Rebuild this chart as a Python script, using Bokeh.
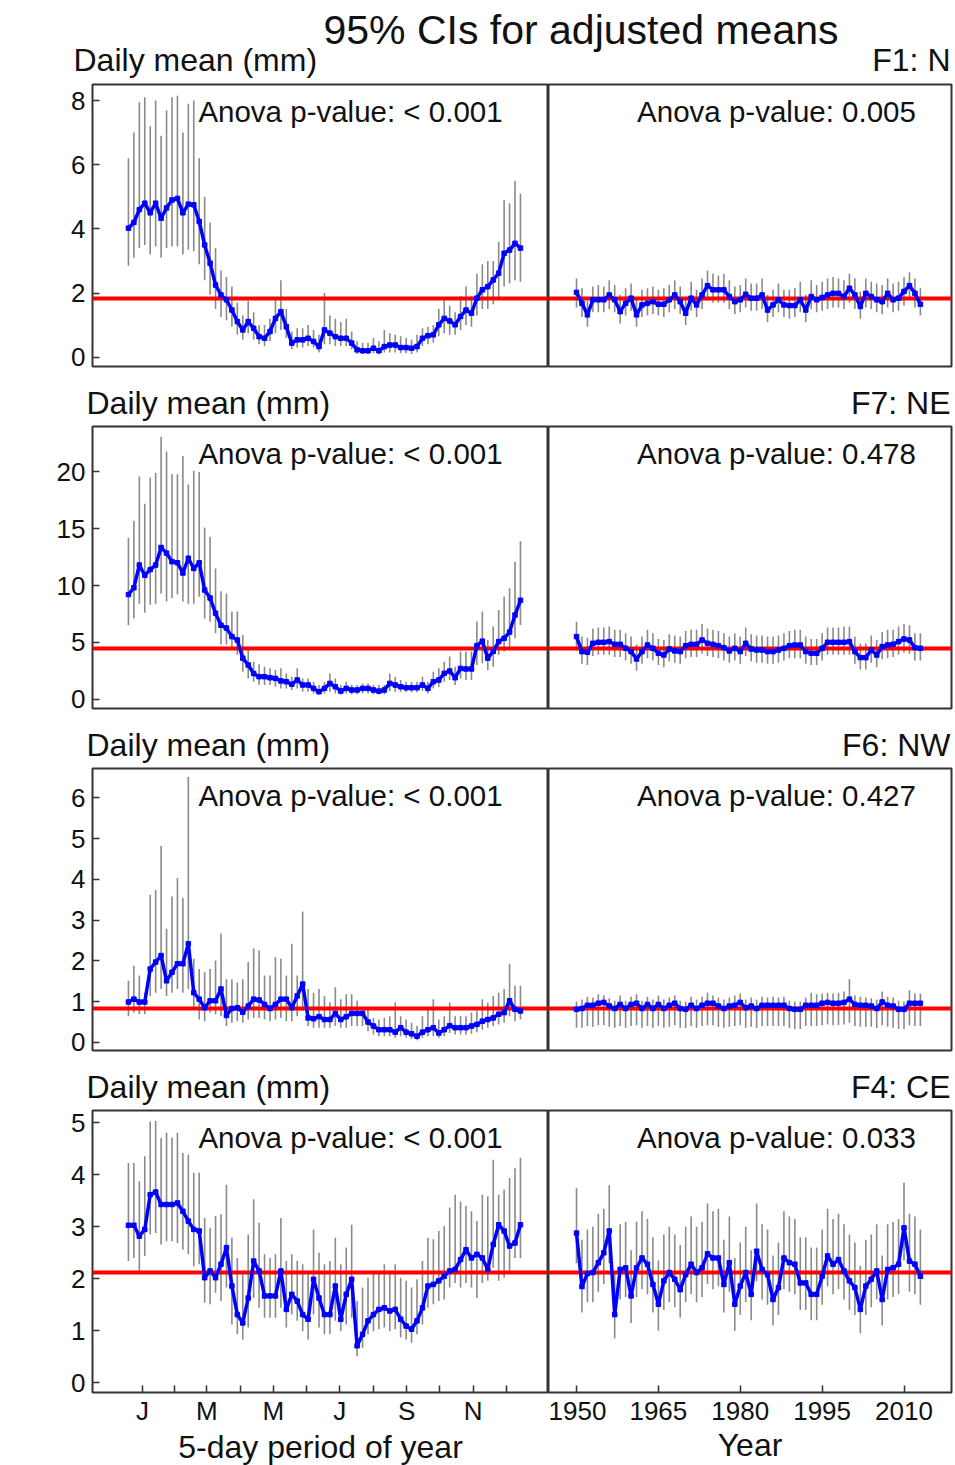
from bokeh.plotting import figure
from bokeh.layouts import column, row
from bokeh.models import Range1d, FixedTicker, Label
from bokeh.embed import file_html
from bokeh.resources import INLINE

FONT = "Liberation Sans"

# ---------------------------------------------------------------- data
PERIODS = list(range(1, 74))          # 5-day periods of the year
YEARS = list(range(1950, 2014))

MONTH_MID_DAYS = [15.5, 45, 74.5, 105, 135.5, 166, 196.5, 227.5, 258, 288.5, 319, 349.5]
MONTH_LABELS = ["J", "", "M", "", "M", "", "J", "", "S", "", "N", ""]
YEAR_TICKS = [1950, 1965, 1980, 1995, 2010]

REGIONS = ["F1: N", "F7: NE", "F6: NW", "F4: CE"]
P_SEASON = ["< 0.001", "< 0.001", "< 0.001", "< 0.001"]
P_YEAR = ["0.005", "0.478", "0.427", "0.033"]
OVERALL_MEAN = [1.82, 4.47, 0.83, 2.13]
Y_TICKS = [[0, 2, 4, 6, 8], [0, 5, 10, 15, 20], [0, 1, 2, 3, 4, 5, 6], [0, 1, 2, 3, 4, 5]]
Y_LIMITS = [(-0.29, 8.5), (-0.83, 24.0), (-0.2, 6.72), (-0.19, 5.24)]

# F1: N
F1_SEASON_MEAN = [4.02, 4.2, 4.6, 4.8, 4.5, 4.8, 4.33, 4.65, 4.9, 4.95,
                  4.5, 4.77, 4.75, 4.23, 3.5, 2.93, 2.25, 1.94, 1.79, 1.47,
                  1.11, 0.85, 1.11, 0.9, 0.64, 0.59, 0.8, 1.21, 1.42, 0.95,
                  0.44, 0.54, 0.54, 0.59, 0.49, 0.33, 0.85, 0.75, 0.64, 0.59,
                  0.59, 0.44, 0.23, 0.2, 0.2, 0.28, 0.2, 0.33, 0.38, 0.38,
                  0.3, 0.3, 0.28, 0.33, 0.59, 0.67, 0.7, 1.01, 1.21, 1.13,
                  1.01, 1.27, 1.47, 1.37, 1.84, 2.1, 2.2, 2.41, 2.62, 3.24,
                  3.34, 3.55, 3.4]
F1_SEASON_HI = [6.2, 7.0, 7.95, 8.1, 7.2, 8.0, 6.9, 7.7, 8.1, 8.15,
                7.0, 7.9, 8.0, 6.2, 5.0, 4.2, 3.4, 2.7, 2.5, 2.2,
                1.7, 1.3, 1.75, 1.4, 1.0, 1.0, 1.2, 1.8, 2.4, 1.5,
                0.8, 0.9, 0.9, 1.0, 0.85, 0.7, 2.0, 1.3, 1.2, 1.1,
                1.2, 0.8, 0.5, 0.45, 0.45, 0.6, 0.5, 0.85, 0.75, 0.7,
                0.65, 0.6, 0.55, 0.7, 0.9, 0.95, 1.0, 1.5, 1.8, 1.6,
                1.4, 1.9, 2.2, 1.9, 2.6, 2.9, 3.0, 3.0, 3.6, 4.9,
                4.8, 5.5, 5.1]
F1_SEASON_LO = [2.85, 3.1, 3.4, 3.5, 3.2, 3.45, 3.1, 3.4, 3.45, 3.45,
                3.2, 3.35, 3.3, 2.9, 2.4, 1.95, 1.5, 1.25, 1.15, 0.95,
                0.7, 0.55, 0.75, 0.55, 0.4, 0.35, 0.5, 0.75, 0.85, 0.6,
                0.25, 0.3, 0.3, 0.35, 0.3, 0.15, 0.4, 0.4, 0.35, 0.35,
                0.35, 0.25, 0.1, 0.1, 0.1, 0.12, 0.1, 0.15, 0.15, 0.15,
                0.12, 0.12, 0.1, 0.15, 0.35, 0.4, 0.45, 0.65, 0.75, 0.7,
                0.7, 0.85, 1.0, 0.95, 1.3, 1.5, 1.5, 1.65, 1.8, 2.2,
                2.3, 2.4, 2.35]
F1_YEAR_MEAN = [2.02, 1.68, 1.32, 1.79, 1.79, 1.79, 1.94, 1.79, 1.42, 1.68,
                1.84, 1.32, 1.63, 1.68, 1.73, 1.65, 1.65, 1.79, 1.94, 1.73,
                1.37, 1.84, 1.63, 1.94, 2.23, 2.10, 2.10, 2.10, 1.89, 1.73,
                1.79, 1.96, 1.84, 1.84, 1.94, 1.47, 1.63, 1.79, 1.63, 1.61,
                1.61, 1.79, 1.47, 1.89, 1.79, 1.86, 1.94, 1.99, 1.99, 1.89,
                2.15, 1.94, 1.58, 1.99, 1.89, 1.79, 1.73, 1.99, 1.79, 1.84,
                2.05, 2.23, 1.99, 1.65]
F1_YEAR_HI = [2.45, 2.15, 1.75, 2.2, 2.25, 2.2, 2.4, 2.25, 1.95, 2.15,
              2.3, 1.85, 2.1, 2.15, 2.2, 2.1, 2.15, 2.25, 2.4, 2.2,
              1.85, 2.35, 2.1, 2.45, 2.7, 2.6, 2.55, 2.6, 2.4, 2.2,
              2.25, 2.45, 2.3, 2.3, 2.45, 1.95, 2.1, 2.3, 2.1, 2.1,
              2.15, 2.35, 1.95, 2.4, 2.25, 2.35, 2.45, 2.5, 2.45, 2.4,
              2.6, 2.45, 2.05, 2.45, 2.35, 2.3, 2.25, 2.45, 2.3, 2.35,
              2.5, 2.65, 2.45, 2.15]
F1_YEAR_LO = [1.55, 1.25, 0.95, 1.4, 1.4, 1.4, 1.5, 1.4, 1.05, 1.3,
              1.45, 0.95, 1.25, 1.3, 1.35, 1.3, 1.25, 1.4, 1.5, 1.35,
              1.0, 1.45, 1.25, 1.5, 1.8, 1.7, 1.7, 1.7, 1.5, 1.35,
              1.4, 1.55, 1.45, 1.45, 1.5, 1.1, 1.25, 1.4, 1.25, 1.2,
              1.25, 1.4, 1.1, 1.5, 1.4, 1.45, 1.5, 1.55, 1.55, 1.5,
              1.7, 1.5, 1.2, 1.55, 1.5, 1.4, 1.35, 1.55, 1.4, 1.45,
              1.6, 1.8, 1.55, 1.3]

# F7: NE
F7_SEASON_MEAN = [9.2, 9.8, 11.8, 10.9, 11.4, 11.8, 13.35, 12.85, 12.1, 12.0,
                  11.1, 12.4, 11.5, 12.0, 9.6, 8.9, 7.55, 6.5, 6.25, 5.5,
                  5.2, 3.6, 3.0, 2.25, 1.97, 1.97, 1.88, 1.82, 1.6, 1.53,
                  1.3, 1.68, 1.24, 1.24, 0.94, 0.65, 0.94, 1.38, 1.09, 0.7,
                  0.94, 0.8, 0.8, 0.94, 0.94, 0.8, 0.7, 0.8, 1.38, 1.24,
                  1.09, 1.0, 1.0, 1.0, 1.24, 0.94, 1.53, 1.68, 2.26, 2.47,
                  1.88, 2.7, 2.65, 2.65, 4.7, 5.1, 3.6, 4.2, 5.06, 5.35,
                  5.9, 7.4, 8.7]
F7_SEASON_HI = [14.2, 15.7, 19.6, 17.2, 19.5, 19.9, 23.1, 21.8, 19.8, 19.8,
                21.4, 18.9, 20.1, 20.0, 15.1, 14.3, 11.5, 9.5, 9.3, 7.7,
                7.7, 5.65, 4.47, 3.29, 3.06, 2.85, 2.71, 2.56, 2.71, 2.26,
                1.97, 2.71, 1.82, 1.82, 1.53, 1.24, 1.53, 2.26, 1.82, 1.24,
                1.53, 1.24, 1.24, 1.38, 1.38, 1.24, 1.24, 1.24, 2.26, 1.97,
                1.68, 1.53, 1.53, 1.53, 1.97, 1.53, 2.41, 2.71, 3.29, 3.74,
                2.85, 4.18, 4.18, 4.18, 6.82, 7.7, 5.2, 6.38, 7.85, 9.03,
                9.76, 12.1, 13.9]
F7_SEASON_LO = [6.5, 7.1, 8.4, 7.6, 8.3, 8.4, 9.3, 8.6, 8.9, 9.2,
                8.6, 8.4, 8.4, 9.0, 7.1, 6.8, 5.8, 4.8, 4.8, 4.3,
                3.9, 2.41, 1.82, 1.53, 1.24, 1.24, 1.24, 1.09, 0.94, 0.94,
                0.79, 0.94, 0.65, 0.65, 0.5, 0.4, 0.5, 0.65, 0.5, 0.41,
                0.5, 0.41, 0.41, 0.5, 0.5, 0.41, 0.41, 0.41, 0.7, 0.65,
                0.65, 0.59, 0.59, 0.59, 0.7, 0.5, 0.94, 1.09, 1.53, 1.68,
                1.24, 1.82, 1.68, 1.68, 3.0, 3.15, 2.56, 2.85, 3.88, 4.18,
                4.47, 5.35, 6.53]
F7_YEAR_MEAN = [5.5, 4.18, 4.12, 4.91, 5.0, 5.0, 5.06, 4.82, 4.82, 4.47,
                4.18, 3.53, 4.18, 4.76, 4.47, 4.03, 3.88, 4.41, 4.24, 4.18,
                4.7, 4.82, 4.82, 5.2, 4.91, 4.82, 4.7, 4.53, 4.24, 4.47,
                4.18, 4.91, 4.41, 4.32, 4.32, 4.18, 4.18, 4.32, 4.47, 4.7,
                4.76, 4.76, 4.18, 4.03, 4.03, 4.47, 5.0, 5.0, 5.0, 5.0,
                5.06, 4.18, 3.65, 3.65, 4.32, 3.88, 4.62, 4.76, 4.82, 5.06,
                5.29, 5.2, 4.53, 4.47]
F7_YEAR_HI = [6.8, 5.5, 5.4, 6.2, 6.3, 6.3, 6.4, 6.1, 6.1, 5.8,
              5.5, 4.8, 5.5, 6.1, 5.8, 5.3, 5.2, 5.7, 5.6, 5.5,
              6.0, 6.1, 6.1, 6.6, 6.2, 6.1, 6.0, 5.8, 5.5, 5.8,
              5.5, 6.3, 5.7, 5.6, 5.6, 5.5, 5.5, 5.6, 5.8, 6.0,
              6.1, 6.1, 5.5, 5.3, 5.3, 5.8, 6.3, 6.3, 6.3, 6.4,
              6.4, 5.5, 4.9, 4.9, 5.6, 5.2, 5.9, 6.1, 6.1, 6.4,
              6.6, 6.5, 5.8, 5.8]
F7_YEAR_LO = [4.3, 3.1, 3.0, 3.8, 3.9, 3.9, 3.9, 3.7, 3.7, 3.4,
              3.1, 2.5, 3.1, 3.6, 3.4, 3.0, 2.8, 3.3, 3.2, 3.1,
              3.6, 3.7, 3.7, 4.0, 3.8, 3.7, 3.6, 3.4, 3.2, 3.4,
              3.1, 3.8, 3.3, 3.2, 3.2, 3.1, 3.1, 3.2, 3.4, 3.6,
              3.6, 3.6, 3.1, 3.0, 3.0, 3.4, 3.9, 3.9, 3.9, 3.9,
              3.9, 3.1, 2.6, 2.6, 3.2, 2.8, 3.5, 3.6, 3.7, 3.9,
              4.1, 4.0, 3.4, 3.4]

# F6: NW
F6_SEASON_MEAN = [0.99, 1.06, 0.99, 0.99, 1.8, 1.97, 2.13, 1.51, 1.72, 1.93,
                  1.93, 2.42, 1.22, 1.06, 0.85, 1.02, 1.02, 1.31, 0.66, 0.83,
                  0.85, 0.74, 0.89, 1.06, 1.04, 0.93, 0.83, 0.93, 1.06, 1.06,
                  0.85, 1.14, 1.43, 0.6, 0.58, 0.63, 0.56, 0.56, 0.71, 0.56,
                  0.63, 0.71, 0.71, 0.71, 0.5, 0.4, 0.31, 0.31, 0.31, 0.25,
                  0.36, 0.25, 0.21, 0.15, 0.25, 0.31, 0.36, 0.23, 0.31, 0.41,
                  0.36, 0.36, 0.36, 0.4, 0.44, 0.52, 0.56, 0.6, 0.69, 0.73,
                  1.02, 0.81, 0.77]
F6_SEASON_HI = [1.51, 1.88, 1.64, 1.22, 3.62, 3.74, 4.82, 2.79, 3.58, 4.03,
                3.54, 6.51, 2.05, 1.8, 1.72, 1.8, 2.01, 2.67, 1.55, 1.55,
                1.47, 1.55, 1.97, 2.3, 2.26, 1.64, 1.64, 2.09, 2.05, 1.64,
                2.42, 1.64, 3.21, 1.31, 1.22, 1.31, 1.14, 0.98, 1.35, 1.06,
                1.18, 1.18, 1.02, 0.85, 0.81, 0.6, 0.56, 0.6, 0.64, 0.98,
                0.64, 0.56, 0.48, 0.4, 0.64, 0.81, 1.06, 0.56, 0.64, 0.98,
                0.64, 0.64, 0.64, 0.73, 0.77, 1.06, 0.98, 1.14, 1.22, 1.31,
                1.93, 1.39, 1.39]
F6_SEASON_LO = [0.64, 0.73, 0.69, 0.69, 1.14, 1.22, 1.31, 1.14, 1.22, 1.31,
                1.22, 1.31, 0.81, 0.56, 0.52, 0.73, 0.69, 0.64, 0.4, 0.48,
                0.52, 0.48, 0.56, 0.6, 0.6, 0.56, 0.52, 0.56, 0.6, 0.52,
                0.52, 0.64, 0.77, 0.4, 0.36, 0.36, 0.36, 0.36, 0.4, 0.36,
                0.36, 0.4, 0.4, 0.4, 0.27, 0.19, 0.15, 0.15, 0.15, 0.11,
                0.15, 0.11, 0.08, 0.05, 0.11, 0.15, 0.15, 0.11, 0.15, 0.23,
                0.19, 0.19, 0.19, 0.21, 0.25, 0.31, 0.36, 0.4, 0.44, 0.48,
                0.64, 0.52, 0.56]
F6_YEAR_MEAN = [0.81, 0.83, 0.91, 0.91, 0.96, 0.98, 0.89, 0.83, 0.93, 0.83,
                0.93, 0.96, 0.83, 0.93, 0.83, 0.93, 0.83, 0.91, 0.96, 0.83,
                0.81, 0.91, 0.83, 0.91, 0.96, 0.96, 0.89, 0.83, 0.89, 0.91,
                0.98, 0.85, 0.89, 0.83, 0.91, 0.91, 0.91, 0.91, 0.91, 0.83,
                0.81, 0.81, 0.91, 0.91, 0.91, 0.96, 0.98, 0.96, 0.96, 0.98,
                1.06, 0.93, 0.91, 0.91, 0.89, 0.83, 0.99, 0.91, 0.89, 0.81,
                0.81, 0.96, 0.96, 0.96]
F6_YEAR_HI = [1.0, 1.05, 1.12, 1.1, 1.18, 1.15, 1.08, 1.02, 1.15, 1.02,
              1.12, 1.18, 1.02, 1.12, 1.05, 1.15, 1.05, 1.1, 1.15, 1.02,
              1.0, 1.12, 1.05, 1.12, 1.22, 1.15, 1.1, 1.05, 1.1, 1.15,
              1.2, 1.05, 1.1, 1.05, 1.12, 1.1, 1.12, 1.1, 1.12, 1.02,
              1.0, 1.0, 1.1, 1.22, 1.18, 1.2, 1.22, 1.2, 1.22, 1.25,
              1.55, 1.15, 1.12, 1.1, 1.08, 1.05, 1.25, 1.12, 1.1, 1.02,
              1.0, 1.28, 1.2, 1.2]
F6_YEAR_LO = [0.36, 0.36, 0.4, 0.38, 0.42, 0.42, 0.38, 0.36, 0.4, 0.36,
              0.4, 0.42, 0.36, 0.4, 0.36, 0.4, 0.36, 0.38, 0.42, 0.36,
              0.35, 0.4, 0.36, 0.4, 0.42, 0.42, 0.38, 0.36, 0.38, 0.4,
              0.42, 0.36, 0.38, 0.35, 0.4, 0.4, 0.4, 0.4, 0.4, 0.35,
              0.33, 0.33, 0.4, 0.4, 0.4, 0.42, 0.44, 0.42, 0.42, 0.44,
              0.48, 0.4, 0.38, 0.38, 0.38, 0.35, 0.42, 0.38, 0.36, 0.33,
              0.33, 0.42, 0.4, 0.4]

# F4: CE
F4_SEASON_MEAN = [3.03, 3.03, 2.82, 2.95, 3.62, 3.67, 3.43, 3.43, 3.43, 3.46,
                  3.3, 3.11, 2.95, 2.92, 2.02, 2.15, 2.02, 2.28, 2.6, 1.86,
                  1.31, 1.15, 1.63, 2.34, 2.15, 1.67, 1.67, 1.67, 2.15, 1.41,
                  1.7, 1.57, 1.31, 1.22, 1.99, 1.63, 1.31, 1.31, 1.86, 1.22,
                  1.7, 1.99, 0.71, 0.93, 1.19, 1.31, 1.41, 1.44, 1.38, 1.41,
                  1.22, 1.09, 1.03, 1.19, 1.44, 1.86, 1.89, 1.96, 2.05, 2.15,
                  2.18, 2.37, 2.56, 2.4, 2.47, 2.4, 2.18, 2.66, 3.04, 2.92,
                  2.63, 2.69, 3.04]
F4_SEASON_HI = [4.23, 4.23, 3.88, 4.36, 5.03, 5.04, 4.71, 4.81, 4.72, 4.81,
                4.42, 4.39, 4.04, 4.04, 3.17, 2.98, 3.21, 3.24, 3.81, 2.79,
                2.4, 2.08, 2.85, 3.53, 3.08, 2.47, 2.4, 2.47, 3.17, 2.34,
                2.47, 2.34, 2.28, 2.15, 2.95, 2.5, 2.28, 2.34, 2.79, 2.28,
                2.6, 3.04, 1.57, 1.83, 2.02, 2.12, 2.12, 2.28, 2.15, 2.28,
                2.02, 1.96, 1.83, 1.99, 2.34, 2.79, 2.76, 2.92, 3.01, 3.37,
                3.62, 3.49, 3.4, 3.3, 3.11, 3.62, 3.59, 4.29, 3.62, 3.72,
                3.94, 4.13, 4.33]
F4_SEASON_LO = [2.34, 2.4, 2.15, 2.44, 2.85, 2.88, 2.66, 2.72, 2.72, 2.69,
                2.56, 2.47, 2.24, 2.28, 1.54, 1.51, 1.73, 1.57, 1.83, 1.12,
                0.93, 0.83, 1.06, 1.63, 1.44, 1.25, 1.25, 1.25, 1.44, 1.06,
                1.31, 1.19, 0.99, 0.83, 1.31, 1.06, 0.93, 0.93, 1.19, 0.99,
                1.12, 1.25, 0.51, 0.67, 0.93, 0.99, 1.03, 1.06, 0.99, 1.03,
                0.87, 0.83, 0.77, 0.93, 1.12, 1.44, 1.51, 1.57, 1.6, 1.83,
                1.92, 1.83, 1.92, 1.83, 1.63, 1.92, 1.96, 2.21, 1.96, 2.02,
                2.15, 2.4, 2.4]
F4_YEAR_MEAN = [2.88, 1.85, 2.1, 2.12, 2.31, 2.5, 2.92, 1.31, 2.18, 2.21,
                1.67, 2.21, 2.4, 2.28, 1.89, 1.51, 1.96, 2.12, 1.99, 1.79,
                2.08, 2.28, 2.12, 2.21, 2.48, 2.4, 2.4, 1.89, 2.31, 1.51,
                1.86, 2.12, 1.7, 2.53, 2.18, 2.08, 1.6, 1.83, 2.4, 2.31,
                2.28, 1.92, 1.92, 1.7, 1.7, 2.05, 2.44, 2.28, 2.37, 2.15,
                1.96, 1.83, 1.41, 1.86, 1.99, 2.15, 1.6, 2.18, 2.21, 2.28,
                2.98, 2.34, 2.28, 2.05]
F4_YEAR_HI = [3.75, 2.75, 2.95, 3.0, 3.25, 3.35, 3.8, 2.1, 3.05, 3.1,
              2.55, 3.1, 3.3, 3.15, 2.8, 2.35, 2.85, 3.0, 2.85, 2.65,
              3.0, 3.2, 3.0, 3.1, 3.45, 3.3, 3.35, 2.75, 3.2, 2.4,
              2.7, 3.0, 2.55, 3.45, 3.05, 2.95, 2.45, 2.7, 3.3, 3.2,
              3.15, 2.8, 2.8, 2.6, 2.6, 2.95, 3.35, 3.15, 3.25, 3.05,
              2.85, 2.7, 2.25, 2.75, 2.85, 3.05, 2.45, 3.05, 3.1, 3.15,
              3.85, 3.25, 3.2, 2.95]
F4_YEAR_LO = [2.3, 1.35, 1.55, 1.55, 1.75, 1.9, 2.3, 0.85, 1.6, 1.65,
              1.15, 1.65, 1.8, 1.7, 1.35, 1.0, 1.4, 1.55, 1.45, 1.25,
              1.55, 1.7, 1.55, 1.65, 1.9, 1.8, 1.85, 1.35, 1.75, 1.0,
              1.3, 1.55, 1.2, 1.95, 1.6, 1.5, 1.1, 1.3, 1.8, 1.75,
              1.7, 1.4, 1.4, 1.2, 1.2, 1.5, 1.85, 1.7, 1.8, 1.6,
              1.4, 1.3, 0.95, 1.3, 1.45, 1.6, 1.1, 1.6, 1.65, 1.7,
              2.35, 1.75, 1.7, 1.5]

SEASON = [(F1_SEASON_MEAN, F1_SEASON_LO, F1_SEASON_HI),
          (F7_SEASON_MEAN, F7_SEASON_LO, F7_SEASON_HI),
          (F6_SEASON_MEAN, F6_SEASON_LO, F6_SEASON_HI),
          (F4_SEASON_MEAN, F4_SEASON_LO, F4_SEASON_HI)]
ANNUAL = [(F1_YEAR_MEAN, F1_YEAR_LO, F1_YEAR_HI),
          (F7_YEAR_MEAN, F7_YEAR_LO, F7_YEAR_HI),
          (F6_YEAR_MEAN, F6_YEAR_LO, F6_YEAR_HI),
          (F4_YEAR_MEAN, F4_YEAR_LO, F4_YEAR_HI)]

# ---------------------------------------------------------------- style
MEAN_COLOR = "#0000ff"
CI_COLOR = "#8a8a8a"
REF_COLOR = "#ff0000"
FRAME_COLOR = "#333333"
TEXT_COLOR = "#111111"

LEFT_W, RIGHT_W, FRAME_H = 456, 403, 282
Y_AXIS_W = 92
BOTTOM_AXIS_H = 73
ROW_GAP_BELOW = 10
SEASON_XLIM = (-5.6, 78.15)
YEAR_XLIM = (1944.87, 2018.7)
month_ticks = [(d + 2.5) / 5 for d in MONTH_MID_DAYS]


def style_axis(ax, standoff, title_standoff=0):
    ax.axis_line_color = None
    ax.major_tick_in = 7
    ax.major_tick_out = 0
    ax.major_tick_line_color = FRAME_COLOR
    ax.major_tick_line_width = 1.5
    ax.minor_tick_line_color = None
    ax.major_label_standoff = standoff
    ax.major_label_text_font = FONT
    ax.major_label_text_font_size = "26px"
    ax.major_label_text_color = TEXT_COLOR
    ax.axis_label_text_font = FONT
    ax.axis_label_text_font_size = "32px"
    ax.axis_label_text_font_style = "normal"
    ax.axis_label_text_color = TEXT_COLOR
    ax.axis_label_standoff = title_standoff


def text_label(x, y, text, size, align="left", units="data"):
    return Label(x=x, y=y, x_units=units, y_units=units, text=text,
                 text_font=FONT, text_font_size=size, text_color=TEXT_COLOR,
                 text_align=align, text_baseline="middle")


def panel(i, seasonal, last):
    xs = PERIODS if seasonal else YEARS
    mean, lo, hi = SEASON[i] if seasonal else ANNUAL[i]
    xlim = SEASON_XLIM if seasonal else YEAR_XLIM
    p = figure(frame_width=LEFT_W if seasonal else RIGHT_W, frame_height=FRAME_H,
               x_range=Range1d(*xlim), y_range=Range1d(*Y_LIMITS[i]),
               output_backend="svg", toolbar_location=None,
               x_axis_location="below" if last else None,
               y_axis_location="left" if seasonal else None,
               min_border_left=Y_AXIS_W if seasonal else 0,
               min_border_right=0 if seasonal else 4,
               min_border_top=2,
               min_border_bottom=BOTTOM_AXIS_H if last else ROW_GAP_BELOW)
    p.grid.visible = False
    p.outline_line_color = FRAME_COLOR
    p.outline_line_width = 2
    p.background_fill_color = "white"
    p.border_fill_color = "white"

    if seasonal:
        yax = p.yaxis[0]
        yax.ticker = FixedTicker(ticks=Y_TICKS[i])
        style_axis(yax, 7)
    if last:
        xax = p.xaxis[0]
        if seasonal:
            xax.ticker = FixedTicker(ticks=month_ticks)
            xax.major_label_overrides = {t: lab for t, lab in zip(month_ticks, MONTH_LABELS)}
            xax.axis_label = "5-day period of year"
            style_axis(xax, 3, 0)
        else:
            xax.ticker = FixedTicker(ticks=YEAR_TICKS)
            xax.axis_label = "Year"
            style_axis(xax, 9, 4)

    p.segment(x0=xs, y0=lo, x1=xs, y1=hi, line_color=CI_COLOR, line_width=1.6)
    p.hspan(y=[OVERALL_MEAN[i]], line_color=REF_COLOR, line_width=4)
    p.line(xs, mean, line_color=MEAN_COLOR, line_width=3.5)
    p.scatter(xs, mean, marker="square", size=4.5, color=MEAN_COLOR)

    ptxt = P_SEASON[i] if seasonal else P_YEAR[i]
    p.add_layout(text_label(258 if seasonal else 228, FRAME_H - 26.5,
                            "Anova p-value: " + ptxt, "29.5px", "center", "screen"))
    return p


def strip(height, mid, left_x, region, title=None):
    s = figure(width=955, height=height, x_range=Range1d(0, 955), y_range=Range1d(height, 0),
               output_backend="svg", toolbar_location=None,
               x_axis_location=None, y_axis_location=None, min_border=0)
    s.grid.visible = False
    s.outline_line_color = None
    s.border_fill_color = "white"
    if title:
        s.add_layout(text_label(580.5, 29, title, "41px", "center"))
    s.add_layout(text_label(left_x, mid, "Daily mean (mm)", "32px", "left"))
    s.add_layout(text_label(950, mid, region, "32px", "right"))
    return s


items = []
for i in range(4):
    last = i == 3
    if i == 0:
        items.append(strip(82, 59, 73, REGIONS[0], "95% CIs for adjusted means"))
    else:
        items.append(strip(48, 26, 86, REGIONS[i]))
    items.append(row(panel(i, True, last), panel(i, False, last), spacing=0))

layout = column(*items, spacing=0)

open("out.html", "w").write(file_html(layout, INLINE))
